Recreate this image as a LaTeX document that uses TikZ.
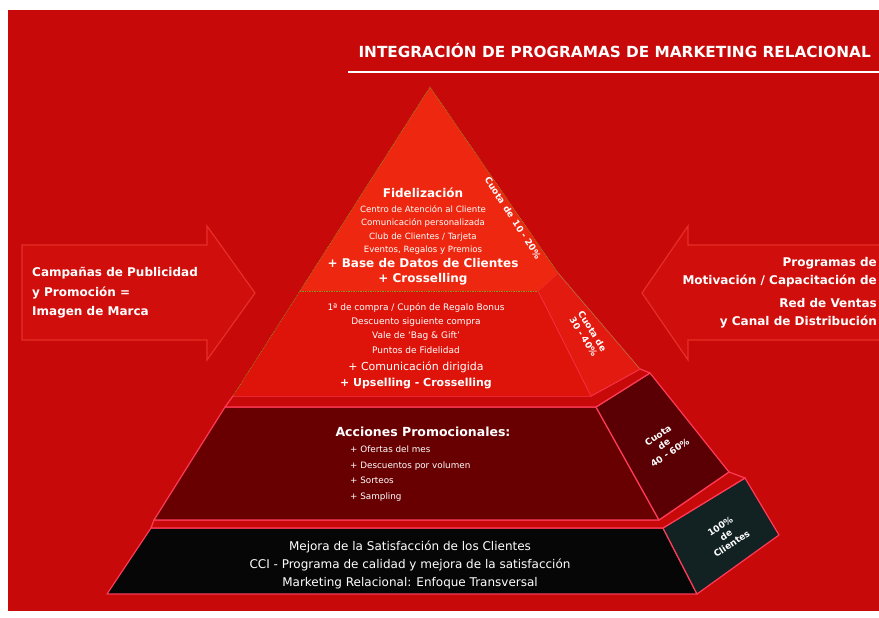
\documentclass[tikz,border=0pt]{standalone}
\usepackage{fontspec}
\setmainfont{DejaVu Sans}
\usetikzlibrary{positioning}

\definecolor{rojoFondo}{RGB}{199,9,9}
\definecolor{rojoFlecha}{RGB}{208,15,13}
\definecolor{rojoFlechaBorde}{RGB}{230,46,38}
\definecolor{rojoCima}{RGB}{238,40,16}
\definecolor{rojoMedio}{RGB}{222,20,10}
\definecolor{rojoMedioLado}{RGB}{226,26,16}
\definecolor{granate}{RGB}{104,0,2}
\definecolor{granateLado}{RGB}{90,0,4}
\definecolor{negroBase}{RGB}{6,6,6}
\definecolor{negroLado}{RGB}{18,34,34}
\definecolor{rosaBorde}{RGB}{255,58,88}
\definecolor{verdeBorde}{RGB}{130,150,40}

\begin{document}
\begin{tikzpicture}[x=1pt, y=-1pt,
    arrowbox/.style={fill=rojoFlecha, draw=rojoFlechaBorde, line width=1.2pt, line join=miter},
    tier/.style={draw=rosaBorde, line width=1.2pt, line join=round},
    toptier/.style={draw=verdeBorde, line width=0.7pt, densely dotted},
    blocktext/.style={text=white, align=center, inner sep=0pt},
    sidelabel/.style={blocktext, font=\bfseries\fontsize{9}{10.5}\selectfont}
]
    % Page and red background
    \useasboundingbox (0,0) rectangle (879,618);
    \fill[white] (0,0) rectangle (879,618);
    \fill[rojoFondo] (8,10) rectangle (879,611);

    % Title
    \node[blocktext, anchor=east, font=\bfseries\fontsize{15.3}{17}\selectfont] (title) at (871,51)
        {INTEGRACIÓN DE PROGRAMAS DE MARKETING RELACIONAL};
    \draw[white, line width=2pt] (348,72) -- (879,72);

    % Arrows on both sides
    \draw[arrowbox] (22,245) -- (207,245) -- (207,226) -- (255,293) -- (207,360) -- (207,340) -- (22,340) -- cycle;
    \draw[arrowbox] (885,245) -- (688,245) -- (688,226) -- (642,293) -- (688,360) -- (688,340) -- (885,340);

    \node[blocktext, align=left, anchor=north west, font=\bfseries\fontsize{12}{19.5}\selectfont] (publicidad) at (32,267)
        {Campañas de Publicidad\\y Promoción =\\Imagen de Marca};
    \node[blocktext, align=right, anchor=north east, font=\bfseries\fontsize{12}{18.5}\selectfont] (motivacion) at (877,257)
        {Programas de\\Motivación / Capacitación de\\[4pt]Red de Ventas\\y Canal de Distribución};

    % Bottom tier
    \filldraw[tier, fill=negroBase] (151,528) -- (663,528) -- (697,594) -- (107,594) -- cycle;
    \filldraw[tier, fill=negroLado] (663,528) -- (745,478) -- (779,535) -- (697,594) -- cycle;
    \filldraw[tier, fill=rojoFondo] (154,520) -- (659,520) -- (729,472) -- (745,478) -- (663,528) -- (151,528) -- cycle;

    % Third tier
    \filldraw[tier, fill=granate] (225,407) -- (596,407) -- (659,520) -- (154,520) -- cycle;
    \filldraw[tier, fill=granateLado] (596,407) -- (650,373) -- (729,472) -- (659,520) -- cycle;
    \filldraw[tier, fill=rojoFondo] (233,396) -- (591,396) -- (640,369) -- (650,373) -- (596,407) -- (225,407) -- cycle;

    % Second tier
    \fill[rojoMedio] (300,291) -- (538,291) -- (591,396) -- (233,396) -- cycle;
    \filldraw[fill=rojoMedioLado, draw=rosaBorde!70!rojoMedio, line width=0.8pt] (538,291) -- (558,273) -- (640,369) -- (591,396) -- cycle;
    \draw[toptier] (300,291) -- (233,396);
    \draw[toptier] (558,273) -- (640,369);

    % Top tier
    \fill[rojoCima] (430,87) -- (558,273) -- (538,291) -- (300,291) -- cycle;
    \draw[toptier] (300,291) -- (430,87) -- (558,273);
    \draw[toptier] (300,291) -- (538,291);

    % Texts of the top tier
    \node[blocktext, font=\bfseries\fontsize{12}{14}\selectfont] (fidelizacion) at (423,193) {Fidelización};
    \node[blocktext, anchor=north, font=\fontsize{8.6}{13.5}\selectfont] (fideLista) at (423,205)
        {Centro de Atención al Cliente\\Comunicación personalizada\\Club de Clientes / Tarjeta\\Eventos, Regalos y Premios};
    \node[blocktext, anchor=north, font=\bfseries\fontsize{12}{15}\selectfont] (fideMas) at (423,258)
        {+ Base de Datos de Clientes\\+ Crosselling};
    \node[sidelabel, rotate=-57] (cuotaCima) at (513,218) {Cuota\enspace de\enspace 10 - 20\%};

    % Texts of the second tier
    \node[blocktext, anchor=north, font=\fontsize{9}{14.3}\selectfont] (compraLista) at (416,303)
        {1ª de compra / Cupón de Regalo Bonus\\Descuento siguiente compra\\Vale de `Bag \& Gift'\\Puntos de Fidelidad};
    \node[blocktext, anchor=north, font=\fontsize{11}{16}\selectfont] (compraMas) at (416,361)
        {+ Comunicación dirigida\\\textbf{+ Upselling - Crosselling}};
    \node[sidelabel, rotate=-58] (cuotaMedio) at (588,334) {Cuota de\\30 - 40\%};

    % Texts of the third tier
    \node[blocktext, font=\bfseries\fontsize{12.5}{14}\selectfont] (acciones) at (423,432) {Acciones Promocionales:};
    \node[blocktext, align=left, anchor=north west, font=\fontsize{8.8}{15.5}\selectfont] (accionesLista) at (350,446)
        {+ Ofertas del mes\\+ Descuentos por volumen\\+ Sorteos\\+ Sampling};
    \node[sidelabel, rotate=34] (cuotaGranate) at (664,444) {Cuota\\de\\40 - 60\%};

    % Texts of the bottom tier
    \node[blocktext, anchor=north, font=\fontsize{12}{18}\selectfont] (satisfaccion) at (410,541)
        {Mejora de la Satisfacción de los Clientes\\CCI - Programa de calidad y mejora de la satisfacción\\Marketing Relacional: Enfoque Transversal};
    \node[sidelabel, rotate=33] (clientes) at (726,535) {100\%\\de\\Clientes};
\end{tikzpicture}
\end{document}
